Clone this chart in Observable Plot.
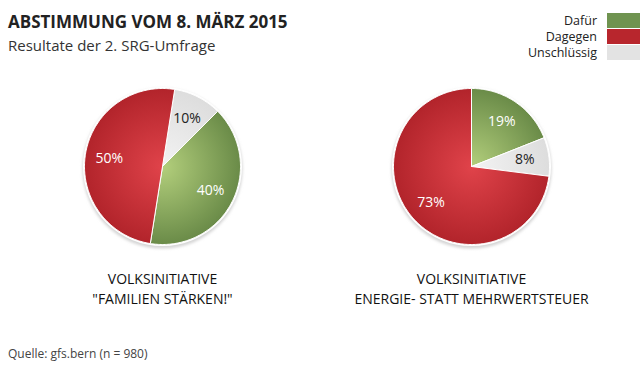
<!DOCTYPE html>
<html><head><meta charset="utf-8">
<script src="https://cdn.jsdelivr.net/npm/d3@7"></script>
<script src="https://cdn.jsdelivr.net/npm/@observablehq/plot@0.6"></script>
<style>
body{margin:0;width:640px;height:375px;overflow:hidden;background:#fff;font-family:"Open Sans",sans-serif;position:relative;color:#222}
#title{position:absolute;left:8px;top:10px;font-weight:bold;font-size:17px;line-height:24px;white-space:nowrap}
#sub{position:absolute;left:8px;top:34px;font-size:15px;line-height:22px;white-space:nowrap;color:#333}
#legend{position:absolute;right:0;top:13px}
.lrow{display:flex;align-items:center;justify-content:flex-end;height:15px;margin-bottom:1px}
.lrow span{font-size:12.5px;margin-right:10px;color:#222;line-height:15px}
.lrow i{display:block;width:33px;height:15px}
#chart{position:absolute;left:0;top:60px}
#source{position:absolute;left:8px;top:345px;font-size:12px;color:#444;white-space:nowrap}
</style></head><body>
<div id="title">ABSTIMMUNG VOM 8. MÄRZ 2015</div>
<div id="sub">Resultate der 2. SRG-Umfrage</div>
<div id="legend"></div>
<div id="chart"></div>
<div id="source">Quelle: gfs.bern (n = 980)</div>
<script>
// ---- data ----
const categories = ["Dafür", "Dagegen", "Unschlüssig"];
const initiatives = ["VOLKSINITIATIVE\n\"FAMILIEN STÄRKEN!\"", "VOLKSINITIATIVE\nENERGIE- STATT MEHRWERTSTEUER"];
const familienValues = [40, 50, 10];
const energieValues = [19, 73, 8];

// ---- style / layout ----
const legendColors = ["#6f9350", "#b8262d", "#e3e3e3"];
const gradStops = [["#b3cf7c", "#6a8b48"], ["#e0434a", "#b2242b"], ["#f3f3f3", "#dddddd"]];
const labelColors = ["#fff", "#fff", "#222"];
const pies = [
  {name: initiatives[0], values: familienValues, order: [2, 0, 1], start: 9},
  {name: initiatives[1], values: energieValues, order: [0, 2, 1], start: 0}
];
const W = 640, H = 255, unit = 309, R = 78 / unit;
const cx0 = 162, cy0 = 106;

// legend
const leg = document.getElementById("legend");
categories.forEach((c, i) => {
  const row = document.createElement("div");
  row.className = "lrow";
  row.innerHTML = `<span>${c}</span><i style="background:${legendColors[i]}"></i>`;
  leg.appendChild(row);
});

// slice geometry derived from values
const slices = [], labels = [], centers = [];
pies.forEach((p, pi) => {
  const total = d3.sum(p.values);
  let a = p.start;
  centers.push({pie: pi, x: pi, y: 0, name: p.name});
  p.order.forEach(ci => {
    const span = p.values[ci] / total * 360;
    const a0 = a, a1 = a + span;
    const pts = [{pie: pi, cat: ci, x: pi, y: 0}];
    const n = Math.max(2, Math.ceil(span));
    for (let k = 0; k <= n; k++) {
      const t = (a0 + (a1 - a0) * k / n) * Math.PI / 180;
      pts.push({pie: pi, cat: ci, x: pi + R * Math.sin(t), y: R * Math.cos(t)});
    }
    pts.push({pie: pi, cat: ci, x: pi, y: 0});
    slices.push(pts);
    const m = ((a0 + a1) / 2) * Math.PI / 180;
    labels.push({pie: pi, cat: ci, x: pi + 0.69 * R * Math.sin(m), y: 0.69 * R * Math.cos(m), text: p.values[ci] + "%"});
    a = a1;
  });
});

const plot = Plot.plot({
  width: W, height: H,
  margin: 0,
  x: {domain: [-cx0 / unit, (W - cx0) / unit], range: [0, W], axis: null},
  y: {domain: [cy0 / unit, (cy0 - H) / unit], range: [0, H], axis: null},
  style: {fontFamily: "'Open Sans', sans-serif", background: "transparent"},
  marks: [
    Plot.dot(centers, {x: "x", y: "y", r: 80, fill: "#d4d4d4", dy: 2, stroke: "none"}),
    Plot.dot(centers, {x: "x", y: "y", r: 79.5, fill: "white", stroke: "none"}),
    ...slices.map(pts => Plot.line(pts, {
      x: "x", y: "y", curve: "linear",
      fill: `url(#g-${pts[0].pie}-${pts[0].cat})`,
      stroke: "white", strokeWidth: 1, strokeLinejoin: "round"
    })),
    Plot.text(labels, {x: "x", y: "y", text: "text", fontSize: 14,
      fill: d => labelColors[d.cat]}),
    Plot.text(centers, {x: "x", text: "name", frameAnchor: "bottom", lineAnchor: "bottom",
      dy: -12, fontSize: 14, lineHeight: 1.36, fill: "#111"})
  ]
});

// gradients positioned through the scales
const svg = d3.select(plot);
const defs = svg.insert("defs", ":first-child");
const xs = plot.scale("x"), ys = plot.scale("y");
pies.forEach((p, pi) => {
  const px = xs.apply(pi), py = ys.apply(0), pr = xs.apply(pi + R) - px;
  gradStops.forEach((s, ci) => {
    const g = defs.append("radialGradient").attr("id", `g-${pi}-${ci}`)
      .attr("gradientUnits", "userSpaceOnUse").attr("cx", px).attr("cy", py).attr("r", pr);
    g.append("stop").attr("offset", "0%").attr("stop-color", s[0]);
    g.append("stop").attr("offset", "100%").attr("stop-color", s[1]);
  });
});
const flt = defs.append("filter").attr("id", "blur").attr("x", "-20%").attr("y", "-20%").attr("width", "140%").attr("height", "140%");
flt.append("feGaussianBlur").attr("stdDeviation", 1.5);
svg.select("g[aria-label=dot]").attr("filter", "url(#blur)");

document.getElementById("chart").appendChild(plot);
</script>
</body></html>
